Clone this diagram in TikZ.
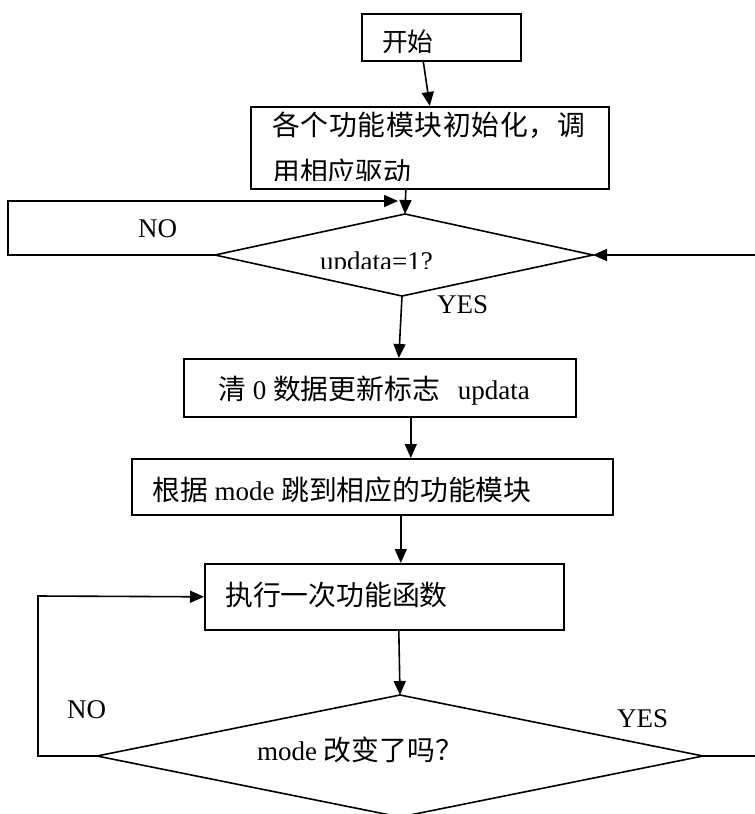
\documentclass[tikz,border=0pt]{standalone}
\usepackage{fontspec}
\setmainfont{Liberation Serif}
\newfontfamily\cjk[Scale=1.03]{Noto Sans CJK SC}
\usetikzlibrary{arrows.meta}
\newcommand\zh[1]{{\cjk #1}}
\begin{document}
\begin{tikzpicture}[x=1pt,y=-1pt,
  flow/.style={line width=1.6pt},
  arr/.style={flow,-{Triangle[length=14pt,width=12pt]}},
  box/.style={draw,line width=1.6pt,anchor=north west,inner sep=0pt},
  txt/.style={anchor=base west,inner sep=0pt,font=\fontsize{27}{30}\selectfont}]
\useasboundingbox (0,0) rectangle (755,814);

% process boxes
\node[box,minimum width=159pt,minimum height=47pt] (start) at (361,13) {};
\node[box,minimum width=358pt,minimum height=82pt] (init)  at (250,106) {};
\node[box,minimum width=392pt,minimum height=58pt] (clr)   at (183,358) {};
\node[box,minimum width=481pt,minimum height=56pt] (mode)  at (131,458) {};
\node[box,minimum width=359pt,minimum height=66pt] (exec)  at (204,563) {};

% decision 1: updata=1?
\coordinate (d1t) at (405,214);
\coordinate (d1r) at (593,255);
\coordinate (d1b) at (402,296);
\coordinate (d1l) at (215,255);
\draw[flow] (d1t) -- (d1r) -- (d1b) -- (d1l) -- cycle;

% decision 2: mode changed?
\coordinate (d2t) at (400,695);
\coordinate (d2r) at (703,756);
\coordinate (d2b) at (400,817);
\coordinate (d2l) at (97,756);
\draw[flow] (d2t) -- (d2r) -- (d2b) -- (d2l) -- cycle;

% loop corners and free ends
\coordinate (n1a) at (8,255);
\coordinate (n1b) at (8,201);
\coordinate (n1e) at (398,201);
\coordinate (rin) at (756,255);
\coordinate (n2a) at (38,756);
\coordinate (n2b) at (38,596);
\coordinate (yout) at (756,756);

% texts
\node[txt,font=\fontsize{25}{30}\selectfont] (tstart) at (382,51) {\zh{开始}};
\node[txt] (tinit1) at (272,135)
  {\hbox to 313pt{\cjk 各\hfil 个\hfil 功\hfil 能\hfil 模\hfil 块\hfil 初\hfil 始\hfil 化\hfil ，\hfil 调}};
\begin{scope}
  \clip (260,140) rectangle (600,180);
  \node[txt] (tinit2) at (272,182) {\zh{用相应驱动}};
\end{scope}
\begin{scope}
  \clip (300,240) rectangle (460,268.5);
  \node[txt] (tq1) at (320,270) {updata=1?};
\end{scope}
\node[txt] (no1)  at (138,237) {NO};
\node[txt] (yes1) at (437,313) {YES};
\node[txt] (tclr) at (218,399) {\zh{清} 0 \zh{数据更新标志}\hspace{18pt}updata};
\node[txt] (tmode) at (152,500) {\zh{根据} mode \zh{跳到相应的功能模块}};
\node[txt] (texec) at (225,605) {\zh{执行一次功能函数}};
\node[txt] (tq2) at (257,760) {mode \zh{改变了吗？}};
\node[txt] (no2)  at (67,718) {NO};
\node[txt] (yes2) at (617,727) {YES};

% connectors
\draw[arr] ([xshift=-18pt]start.south) -- (init.north);
\draw[arr] ([xshift=-24pt]init.south) -- (d1t);
\draw[arr] (d1l) -- (n1a) -- (n1b) -- (n1e);
\draw[arr] (rin) -- (d1r);
\draw[arr] (d1b) -- ([xshift=19pt]clr.north);
\draw[arr] ([xshift=31pt]clr.south) -- ([xshift=38.5pt]mode.north);
\draw[arr] ([xshift=28.5pt]mode.south) -- ([xshift=16.5pt]exec.north);
\draw[arr] ([xshift=14.5pt]exec.south) -- (d2t);
\draw[arr] (d2l) -- (n2a) -- (n2b) -- (exec.west);
\draw[flow] (d2r) -- (yout);
\end{tikzpicture}
\end{document}
